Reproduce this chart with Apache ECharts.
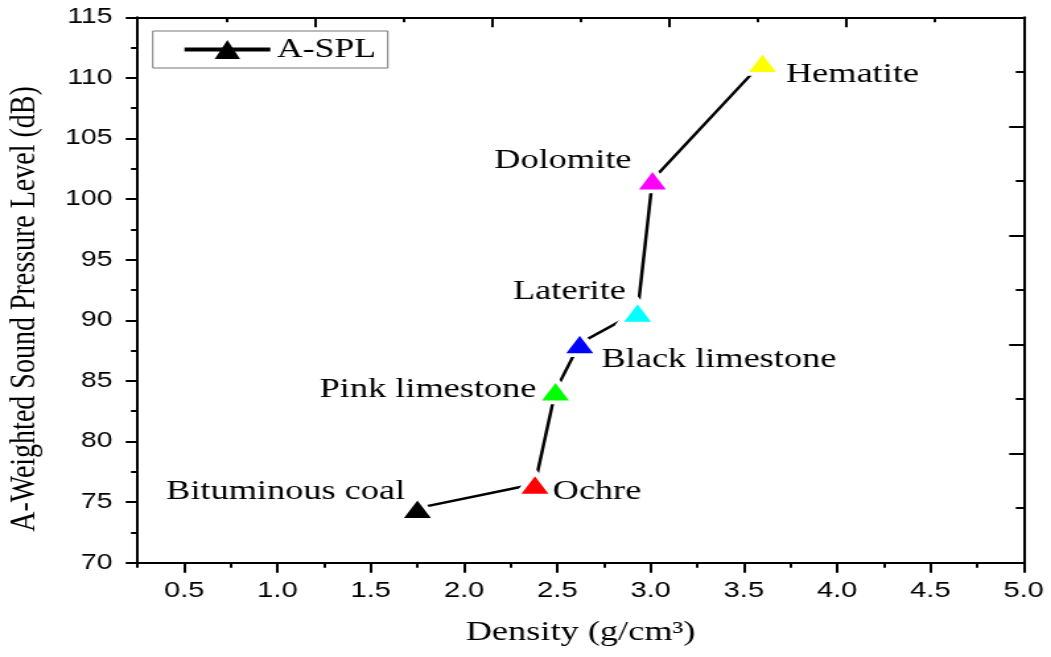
<!DOCTYPE html>
<html>
<head>
<meta charset="utf-8">
<script src="https://cdn.jsdelivr.net/npm/echarts@6/dist/echarts.min.js"></script>
<style>
  html, body { margin: 0; padding: 0; background: #fff; overflow: hidden; }
  /* the figure is laid out at 796px and widened to fill 1051px */
  #chart { width: 796px; height: 657px; transform: scaleX(1.3204); transform-origin: 0 0; }
</style>
</head>
<body>
<div id="chart"></div>
<script>
// ---- data ----
const minerals = ['Bituminous coal', 'Ochre', 'Pink limestone', 'Black limestone', 'Laterite', 'Dolomite', 'Hematite'];
const density = [1.75, 2.38, 2.49, 2.62, 2.93, 3.01, 3.60];      // g/cm^3
const spl = [74.5, 76.5, 84.2, 88.1, 90.7, 101.6, 111.3];         // dB(A)
const seriesName = 'A-SPL';
const xMajorTicks = [0.5, 1.0, 1.5, 2.0, 2.5, 3.0, 3.5, 4.0, 4.5, 5.0];
const xMinorTicks = [0.25, 0.75, 1.25, 1.75, 2.25, 2.75, 3.25, 3.75, 4.25, 4.75];
const xTitle = 'Density (g/cm\u00B3)';
const yTitle = 'A-Weighted Sound Pressure Level (dB)';

// ---- styling ----
const markerColors = ['#000000', '#ff0000', '#00ff00', '#0000ff', '#00ffff', '#ff00ff', '#ffff00'];
// label anchor relative to each marker centre: [align, dx, dy]
const labelPlacement = [
  ['right', -9.3, -16.5],
  ['left', 13.4, 7.5],
  ['right', -14.4, -1],
  ['left', 16.4, 16],
  ['right', -8.8, -20],
  ['right', -15.9, -18.5],
  ['left', 17.7, 12.3]
];
const serif = '"Liberation Serif", "Times New Roman", serif';
const sans = '"Liberation Sans", Arial, sans-serif';
const ink = '#000';
const gridRect = { left: 104.2, right: 20.7, top: 17.3, bottom: 94.3 };

const points = density.map((d, i) => ({
  value: [d, spl[i]],
  itemStyle: { color: markerColors[i] },
  label: {
    align: labelPlacement[i][0],
    offset: [labelPlacement[i][1], labelPlacement[i][2]]
  }
}));

const chart = echarts.init(document.getElementById('chart'));
chart.setOption({
  animation: false,
  backgroundColor: '#fff',
  grid: [
    Object.assign({}, gridRect),
    Object.assign({}, gridRect)
  ],
  legend: {
    data: [seriesName],
    left: 115.7,
    top: 31,
    padding: [5, 9, 5, 22],
    itemWidth: 65,
    itemHeight: 24,
    itemStyle: { borderWidth: 0 },
    lineStyle: { width: 4 },
    backgroundColor: '#fff',
    borderColor: '#777',
    borderWidth: 1,
    borderRadius: 0,
    textStyle: { fontFamily: serif, fontSize: 27, color: ink }
  },
  xAxis: [
    {
      gridIndex: 0, type: 'value', position: 'bottom',
      min: 0.25, max: 5,
      name: xTitle, nameLocation: 'middle', nameGap: 56,
      nameTextStyle: { fontFamily: serif, fontSize: 27.5, color: ink },
      axisLine: { show: true, onZero: false, lineStyle: { color: ink, width: 2 } },
      axisTick: { show: true, inside: false, length: 10, customValues: xMajorTicks, lineStyle: { color: ink, width: 2 } },
      axisLabel: {
        customValues: xMajorTicks, margin: 17,
        fontFamily: sans, fontSize: 22, color: ink,
        formatter: v => Number(v).toFixed(1)
      },
      splitLine: { show: false }
    },
    {
      gridIndex: 1, type: 'value', position: 'bottom',
      min: 0.25, max: 5,
      axisLine: { show: false, onZero: false },
      axisTick: { show: true, inside: false, length: 5, customValues: xMinorTicks, lineStyle: { color: ink, width: 2 } },
      axisLabel: { show: false },
      splitLine: { show: false }
    },
    {
      gridIndex: 1, type: 'value', position: 'top',
      min: 0, max: 5, interval: 1,
      axisLine: { show: true, onZero: false, lineStyle: { color: ink, width: 2 } },
      axisTick: { show: true, inside: true, length: 10, lineStyle: { color: ink, width: 2 } },
      minorTick: { show: true, splitNumber: 2, length: 5, lineStyle: { color: ink, width: 2 } },
      axisLabel: { show: false },
      splitLine: { show: false }
    }
  ],
  yAxis: [
    {
      gridIndex: 0, type: 'value', position: 'left',
      min: 70, max: 115, interval: 5,
      axisLine: { show: true, onZero: false, lineStyle: { color: ink, width: 2 } },
      axisTick: { show: true, inside: false, length: 9, lineStyle: { color: ink, width: 2 } },
      minorTick: { show: true, splitNumber: 2, length: 5, lineStyle: { color: ink, width: 2 } },
      axisLabel: { margin: 19, fontFamily: sans, fontSize: 21.5, color: ink },
      splitLine: { show: false }
    },
    {
      gridIndex: 1, type: 'value', position: 'right',
      min: 0, max: 10, interval: 2,
      axisLine: { show: true, onZero: false, lineStyle: { color: ink, width: 2 } },
      axisTick: { show: true, inside: true, length: 11, lineStyle: { color: ink, width: 2 } },
      minorTick: { show: true, splitNumber: 2, length: 6, lineStyle: { color: ink, width: 2 } },
      axisLabel: { show: false },
      splitLine: { show: false }
    }
  ],
  graphic: [
    {
      type: 'text',
      x: 19, y: 309,
      rotation: Math.PI / 2,
      style: {
        text: yTitle,
        font: '28px ' + serif,
        fill: ink,
        align: 'center', verticalAlign: 'middle',
        textAlign: 'center', textVerticalAlign: 'middle'
      }
    }
  ],
  series: [
    {
      name: seriesName,
      type: 'line',
      xAxisIndex: 0, yAxisIndex: 0,
      data: points,
      symbol: 'triangle',
      symbolSize: [27.5, 23.5],
      itemStyle: { color: ink, borderColor: '#fff', borderWidth: 4 },
      lineStyle: { color: ink, width: 2.5 },
      emphasis: { disabled: true },
      label: {
        show: true,
        position: 'inside',
        verticalAlign: 'middle',
        color: ink,
        textBorderWidth: 0,
        fontFamily: serif,
        fontSize: 27.5,
        formatter: p => minerals[p.dataIndex]
      }
    }
  ]
});
</script>
</body>
</html>
